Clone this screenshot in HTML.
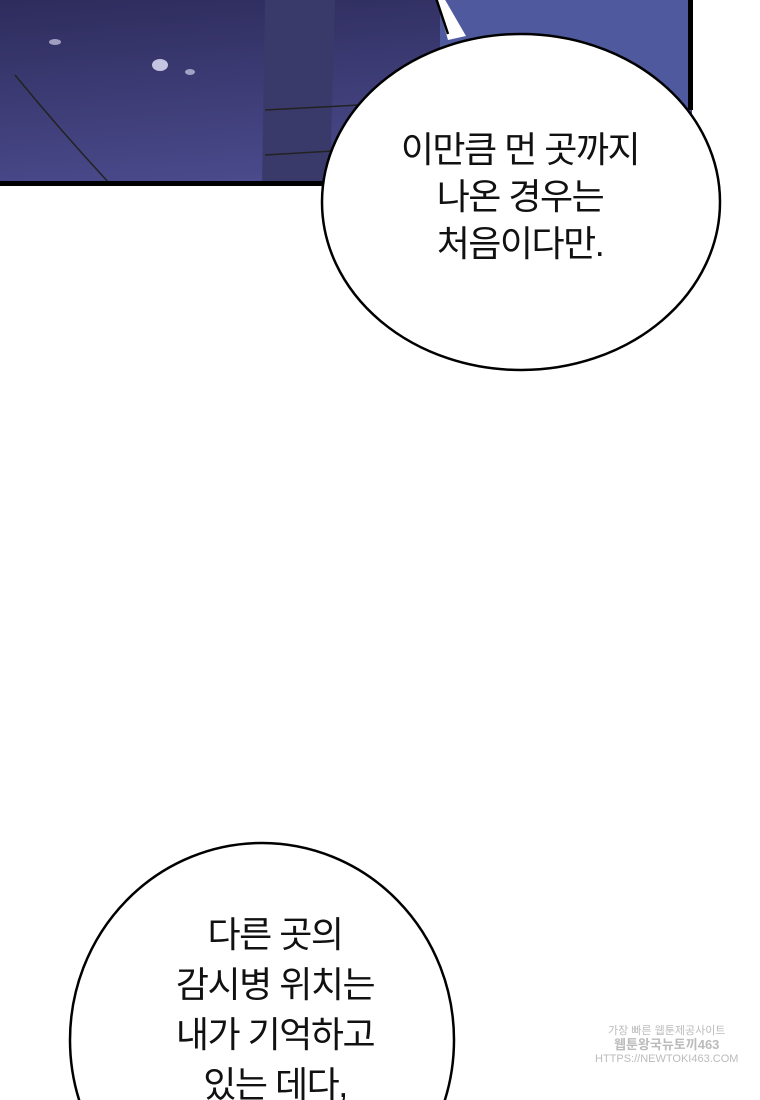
<!DOCTYPE html>
<html><head><meta charset="utf-8"><style>
html,body{margin:0;padding:0;background:#fff;width:760px;height:1100px;overflow:hidden;position:relative;font-family:"Liberation Sans","Noto Sans CJK KR","NanumGothic",sans-serif}
.t{position:absolute;text-align:center;font-size:36px;line-height:47px;color:#111;letter-spacing:-1.5px}
</style></head><body>
<svg width="760" height="1100" style="position:absolute;left:0;top:0">
<defs><linearGradient id="g" x1="0" y1="0" x2="0.3" y2="1">
<stop offset="0" stop-color="#2e2c5c"/><stop offset="1" stop-color="#4a4a8c"/></linearGradient></defs>
<rect x="0" y="0" width="692" height="184" fill="url(#g)"/>
<path d="M440 0 L690 0 L690 184 L440 184Z" fill="#4f5a9e"/>
<path d="M265 0 L262 184 L330 184 L335 0Z" fill="#3a3a6a"/>
<path d="M265 110 L360 105" stroke="#222" stroke-width="1.5" fill="none"/>
<path d="M265 155 L350 150" stroke="#222" stroke-width="1.5" fill="none"/>
<path d="M15 75 Q60 130 110 184" stroke="#222" stroke-width="1.5" fill="none"/>
<ellipse cx="160" cy="65" rx="8" ry="6" fill="#e8e8ff" opacity=".8"/>
<ellipse cx="55" cy="42" rx="6" ry="3" fill="#e8e8ff" opacity=".6"/>
<ellipse cx="190" cy="72" rx="5" ry="3" fill="#e8e8ff" opacity=".6"/>
<rect x="0" y="181" width="692" height="5" fill="#000"/>
<rect x="688" y="0" width="5" height="110" fill="#000"/>
<ellipse cx="521" cy="202" rx="199" ry="168" fill="#fff" stroke="#000" stroke-width="2.5"/>
<path d="M436 -2 L448 40 L466 36 L444 -2Z" fill="#fff"/>
<path d="M436 -2 L448 34" stroke="#000" stroke-width="2.5"/>
<ellipse cx="262" cy="1040" rx="192" ry="197" fill="#fff" stroke="#000" stroke-width="2.5"/>
</svg>
<div class="t" style="left:360px;top:126px;width:320px">이만큼 먼 곳까지<br>나온 경우는<br>처음이다만.</div>
<div class="t" style="left:110px;top:910px;width:330px;line-height:50px;height:190px;overflow:hidden">다른 곳의<br>감시병 위치는<br>내가 기억하고<br>있는 데다,</div>
<div style="position:absolute;left:595px;top:1025px;font-size:11px;color:#bbb;line-height:13px;text-align:center">가장 빠른 웹툰제공사이트<br><b style="font-size:13px">웹툰왕국뉴토끼463</b><br>HTTPS://NEWTOKI463.COM</div>
</body></html>
